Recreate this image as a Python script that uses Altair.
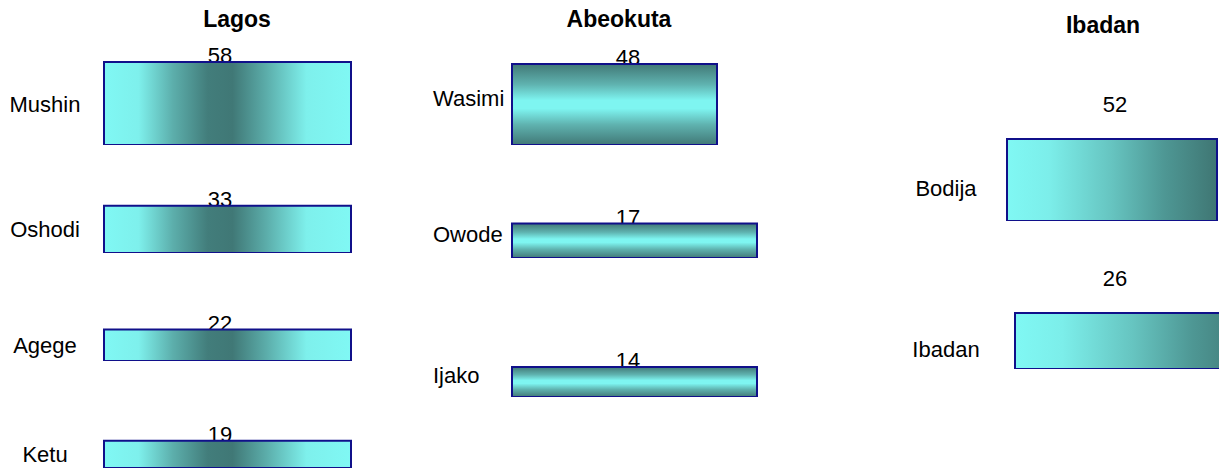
import altair as alt
import pandas as pd

# ---------------- data ----------------
panels = ["Lagos", "Abeokuta", "Ibadan"]
lagos_sites = ["Mushin", "Oshodi", "Agege", "Ketu"]
lagos_values = [58, 33, 22, 19]
abeokuta_sites = ["Wasimi", "Owode", "Ijako"]
abeokuta_values = [48, 17, 14]
ibadan_sites = ["Bodija", "Ibadan"]
ibadan_values = [52, 26]

# ---------------- styling / layout ----------------
LIGHT = "#80F8F4"
DARK = "#407876"
EDGE = "#10108a"
FONT = "Liberation Sans"


def stops(pairs):
    return [alt.GradientStop(offset=o, color=c) for o, c in pairs]


grad_lagos = alt.LinearGradient(
    gradient="linear", x1=0, x2=1, y1=0, y2=0,
    stops=stops([(0, LIGHT), (0.14, "#7EF0EC"), (0.28, "#5CAEAB"), (0.42, "#427D7B"),
                 (0.52, DARK), (0.66, "#5CAEAB"), (0.82, "#7EF0EC"), (1, LIGHT)]))
grad_abeokuta = alt.LinearGradient(
    gradient="linear", x1=0, x2=0, y1=0, y2=1,
    stops=stops([(0, "#417876"), (0.25, "#5FB2AF"), (0.45, "#7EF5F1"), (0.55, "#7EF5F1"),
                 (0.75, "#5FB2AF"), (1, "#417876")]))
grad_ibadan = alt.LinearGradient(
    gradient="linear", x1=0, x2=1, y1=0, y2=0,
    stops=stops([(0, LIGHT), (0.2, "#7CEEEA"), (0.5, "#66C4C0"), (0.75, "#4E9794"), (1, "#3F7673")]))

layout = {
    "Lagos": dict(width=392, rows=[137, 108, 108, 107], bars=[(96, 343)] * 4, k=1.43, base=0,
                  vx=212, vdy=1, lx=37, lalign="center", ldy=8, tx=229, ty=1, grad=grad_lagos),
    "Abeokuta": dict(width=480, rows=[137, 113, 139], bars=[(112, 317), (112, 357), (112, 357)],
                     k=1.5, base=-6, vx=228, vdy=1, lx=33, lalign="left", ldy=1, tx=219, ty=1,
                     grad=grad_abeokuta),
    "Ibadan": dict(width=339, rows=[213, 148], bars=[(127, 337), (135, 372)], k=1.0, base=-30,
                   vx=235, vdy=-27, lx=66, lalign="center", ldy=16, tx=223, ty=7, grad=grad_ibadan),
}

data = {
    "Lagos": (lagos_sites, lagos_values),
    "Abeokuta": (abeokuta_sites, abeokuta_values),
    "Ibadan": (ibadan_sites, ibadan_values),
}


def row_chart(panel, site, value, i):
    cfg = layout[panel]
    H = cfg["rows"][i]
    x0, x1 = cfg["bars"][i]
    df = pd.DataFrame({"site": [site], "value": [value]})
    ysc = alt.Scale(domain=[cfg["base"], cfg["base"] + H / cfg["k"]], nice=False, zero=False)
    base = alt.Chart(df).transform_calculate(mid=f"(datum.value + ({cfg['base']})) / 2")

    value_text = base.mark_text(font=FONT, fontSize=22, color="black", baseline="alphabetic",
                                align="center", dy=cfg["vdy"]).encode(
        x=alt.value(cfg["vx"]),
        y=alt.Y("value:Q", scale=ysc, axis=None),
        text=alt.Text("value:Q"),
    )
    bar = base.mark_rect(fill=cfg["grad"], stroke=EDGE, strokeWidth=2, clip=True).encode(
        x=alt.value(x0), x2=alt.value(x1),
        y=alt.Y("value:Q", scale=ysc, axis=None),
        y2=alt.datum(cfg["base"]),
    )
    label = base.mark_text(font=FONT, fontSize=22, color="black", baseline="alphabetic",
                           align=cfg["lalign"], dy=cfg["ldy"]).encode(
        x=alt.value(cfg["lx"]),
        y=alt.Y("mid:Q", scale=ysc, axis=None),
        text=alt.Text("site:N"),
    )
    layers = [value_text, bar, label]
    if i == 0:
        title = base.mark_text(font=FONT, fontSize=23, fontWeight="bold", color="black",
                               baseline="top", align="center").encode(
            x=alt.value(cfg["tx"]), y=alt.value(cfg["ty"]), text=alt.value(panel))
        layers.append(title)
    return alt.layer(*layers).properties(width=cfg["width"], height=H)


panel_charts = []
for p in panels:
    sites, values = data[p]
    rows = [row_chart(p, s, v, i) for i, (s, v) in enumerate(zip(sites, values))]
    panel_charts.append(alt.vconcat(*rows, spacing=0, bounds="flush"))

chart = alt.hconcat(*panel_charts, spacing=0).properties(
    padding=0
).configure_view(strokeWidth=0)

chart.save("out.html", embed_options={"renderer": "svg", "actions": False})
